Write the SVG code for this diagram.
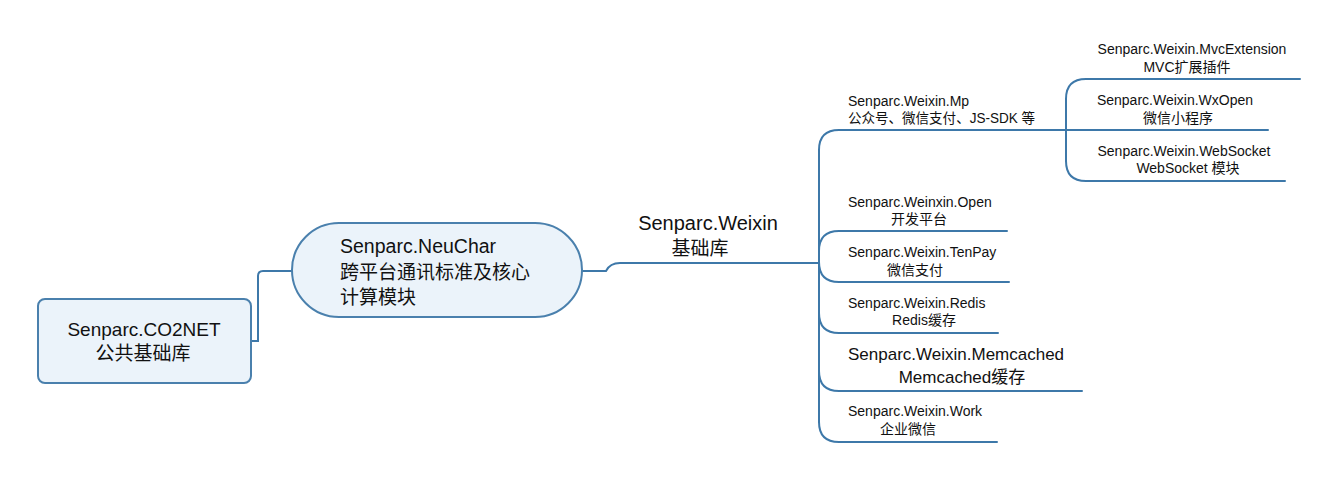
<svg xmlns="http://www.w3.org/2000/svg" width="1338" height="481" viewBox="0 0 1338 481">
<style>
.t{font-family:"Liberation Sans","Noto Sans CJK SC",sans-serif;fill:#111}
.s{font-size:14px}
.m{text-anchor:middle}
.ln{fill:none;stroke:#3d78a9;stroke-width:2;stroke-linecap:round}
.box{fill:#ebf3fa;stroke:#4a80ad;stroke-width:2}
</style>
<rect width="1338" height="481" fill="#fff"/>
<g id="connectors">
<path class="ln" d="M252 341 H258 V276 Q258 271 263 271 H292"/>
<path class="ln" d="M582 271 H606 Q610 263 620 263 H819"/>
<path class="ln" d="M819 150 V422"/>
<path class="ln" d="M819 150 Q819 130 839 130 H1066"/>
<path class="ln" d="M819 251 Q819 231 839 231 H1007"/>
<path class="ln" d="M819 262 Q819 282 839 282 H1009"/>
<path class="ln" d="M819 313 Q819 333 839 333 H998"/>
<path class="ln" d="M819 371 Q819 391 839 391 H1082"/>
<path class="ln" d="M819 422 Q819 442 839 442 H997"/>
<path class="ln" d="M1066 99 V161"/>
<path class="ln" d="M1066 99 Q1066 79 1086 79 H1300"/>
<path class="ln" d="M1066 130 H1268"/>
<path class="ln" d="M1066 161 Q1066 181 1086 181 H1285"/>
</g>
<g id="co2net">
<rect class="box" x="38" y="299" width="213" height="84" rx="7"/>
<text class="t m" x="144" y="336" font-size="19">Senparc.CO2NET</text>
<text class="t m" x="143" y="360" font-size="19">公共基础库</text>
</g>
<g id="neuchar">
<rect class="box" x="292" y="223" width="290" height="94" rx="47"/>
<text class="t" x="340" y="253" font-size="19.5">Senparc.NeuChar</text>
<text class="t" x="340" y="279" font-size="19">跨平台通讯标准及核心</text>
<text class="t" x="340" y="304" font-size="19">计算模块</text>
</g>
<g id="weixin">
<text class="t m" x="708" y="230" font-size="20">Senparc.Weixin</text>
<text class="t m" x="700" y="255" font-size="19">基础库</text>
</g>
<g id="mp">
<text class="t s" x="848" y="106">Senparc.Weixin.Mp</text>
<text class="t s" x="848" y="123" textLength="187" lengthAdjust="spacingAndGlyphs">公众号、微信支付、JS-SDK 等</text>
</g>
<g id="mvcextension">
<text class="t s m" x="1192" y="54">Senparc.Weixin.MvcExtension</text>
<text class="t s m" x="1187" y="72">MVC扩展插件</text>
</g>
<g id="wxopen">
<text class="t s m" x="1175" y="105">Senparc.Weixin.WxOpen</text>
<text class="t s m" x="1178" y="123">微信小程序</text>
</g>
<g id="websocket">
<text class="t s m" x="1184" y="156">Senparc.Weixin.WebSocket</text>
<text class="t s m" x="1188" y="173">WebSocket 模块</text>
</g>
<g id="open">
<text class="t s" x="848" y="207">Senparc.Weinxin.Open</text>
<text class="t s m" x="919" y="224">开发平台</text>
</g>
<g id="tenpay">
<text class="t s" x="848" y="257">Senparc.Weixin.TenPay</text>
<text class="t s m" x="915" y="275">微信支付</text>
</g>
<g id="redis">
<text class="t s" x="848" y="308">Senparc.Weixin.Redis</text>
<text class="t s m" x="924" y="325">Redis缓存</text>
</g>
<g id="memcached">
<text class="t" x="848" y="360" font-size="17">Senparc.Weixin.Memcached</text>
<text class="t m" x="962" y="383" font-size="17">Memcached缓存</text>
</g>
<g id="work">
<text class="t s" x="848" y="416">Senparc.Weixin.Work</text>
<text class="t s m" x="908" y="434">企业微信</text>
</g>
</svg>
